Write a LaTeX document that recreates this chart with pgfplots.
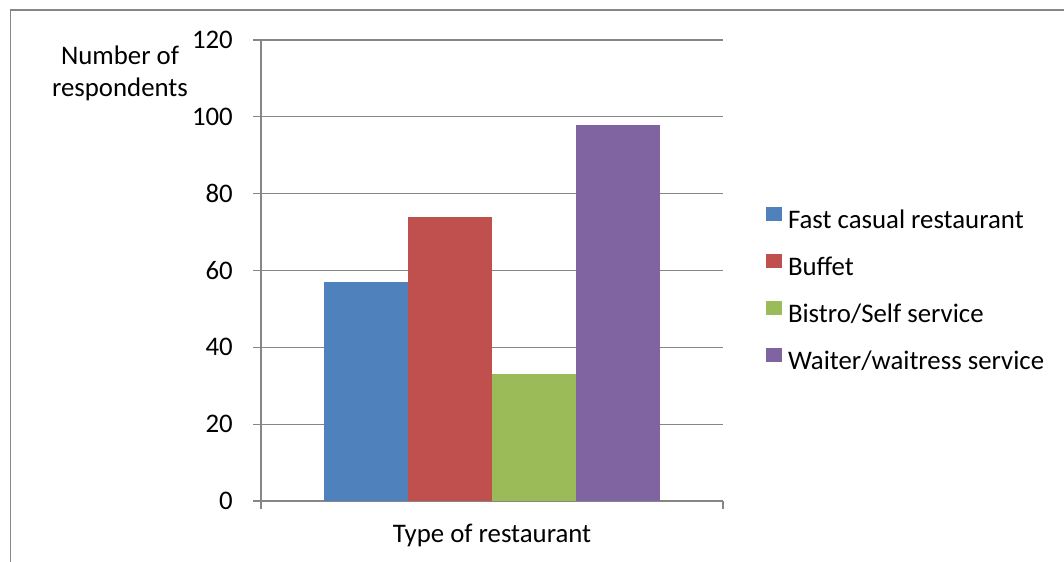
\documentclass[border=0pt]{standalone}
\usepackage{fontspec}
\setmainfont{Carlito}
\usepackage{pgfplots}
\pgfplotsset{compat=1.18}
\definecolor{cblue}{HTML}{4F81BD}
\definecolor{cred}{HTML}{C0504D}
\definecolor{cgreen}{HTML}{9BBB59}
\definecolor{cpurple}{HTML}{8064A2}
\definecolor{cgrid}{HTML}{868686}
\begin{document}
\fontsize{26.8bp}{32bp}\selectfont
\begin{tikzpicture}[x=1bp,y=1bp]
\path[use as bounding box] (0,0) rectangle (1064,562);
\draw[cgrid,line width=1.5bp] (10.5,0) -- (10.5,552) -- (1064,552);
\begin{axis}[
  at={(261bp,61bp)}, anchor=south west,
  scale only axis, width=462bp, height=461bp,
  xmin=-0.5, xmax=0.5, ymin=0, ymax=120,
  ybar=0pt, bar width=84bp,
  axis lines*=left,
  axis line style={cgrid, line width=1.2bp, -},
  xtick={-0.5,0.5}, xticklabels={},
  ytick={0,20,...,120},
  tick align=outside,
  major tick length=8bp,
  tick style={cgrid, line width=1.2bp},
  ymajorgrids,
  grid style={cgrid, line width=1.2bp},
  yticklabel style={inner sep=0pt, xshift=-20bp},
  /pgf/number format/assume math mode=true,
  legend style={draw=none, fill=none, inner sep=0pt, outer sep=0pt,
    at={(axis description cs:1.0931,0.6377)}, anchor=north west,
    row sep=20bp, column sep=6bp,
    nodes={inner sep=0pt, outer sep=0pt, text height=18bp, text depth=6bp}},
  legend cell align=left,
  legend image code/.code={\fill[#1] (0bp,1bp) rectangle (16bp,15bp);},
]
\addplot[fill=cblue, draw=none] coordinates {(0,57)};
\addplot[fill=cred, draw=none] coordinates {(0,74)};
\addplot[fill=cgreen, draw=none] coordinates {(0,33)};
\addplot[fill=cpurple, draw=none] coordinates {(0,98)};
\addlegendentry{Fast casual restaurant}
\addlegendentry{Buffet}
\addlegendentry{Bistro/Self service}
\addlegendentry{Waiter/waitress service}
\end{axis}
\node[anchor=base, inner sep=0pt] at (120,562-65) {Number of};
\node[anchor=base, inner sep=0pt] at (120,562-97) {respondents};
\node[anchor=base, inner sep=0pt] at (492,562-543) {Type of restaurant};
\end{tikzpicture}
\end{document}
